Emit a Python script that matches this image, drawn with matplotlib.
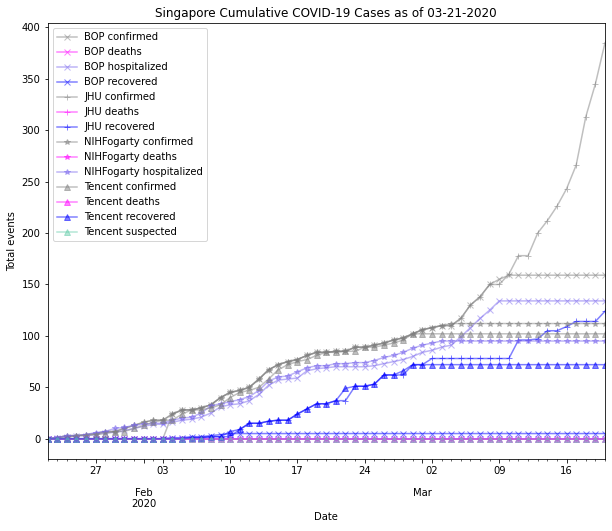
import numpy as np
import matplotlib
matplotlib.use("Agg")
import matplotlib.pyplot as plt
import matplotlib.dates as mdates

dates = np.arange(np.datetime64('2020-01-22'), np.datetime64('2020-03-21'))

bop_confirmed = [0]*13 + [24, 28, 28, 30, 33, 40, 45, 47, 50, 58, 67, 72, 75, 77, 81, 84, 84, 85, 85, 89, 89, 91,
                          93, 96, 98, 102,
                          106, 108, 110, 110, 117, 130, 138, 150, 155] + [159]*11
bop_deaths = [0]*59
bop_hospitalized = [0, 1, 2, 3, 3, 4, 6, 6, 8, 10,
                    12, 14, 14, 16, 18, 19, 21, 25, 31, 33, 34, 37, 43, 52, 57, 58, 59, 66, 68, 69, 70, 70, 70,
                    70, 71, 73, 75, 77, 80,
                    84, 86, 89, 91, 99, 108, 117, 125, 134] + [134]*11
bop_recovered = [0]*13 + [1, 1, 2, 2, 3, 4] + [5]*40

jhu_confirmed = [0, 1, 3, 3, 4, 5, 7, 7, 10, 13,
                 16, 18, 18, 24, 28, 28, 30, 33, 40, 45, 47, 50, 58, 67, 72, 75, 77, 81, 84, 84, 85, 85, 89,
                 89, 91, 93, 96, 98, 102,
                 106, 108, 110, 110, 117, 130, 138, 150, 150, 160, 178, 178, 200, 212, 226, 243, 266, 313,
                 345, 385]
jhu_deaths = [0]*59
jhu_recovered = [0]*10 + [0, 0, 0, 0, 0, 1, 1, 2, 2, 2, 9, 15, 15, 17, 18, 18, 24, 29, 34, 34, 37, 37, 51, 51,
                          53, 62, 62, 62, 72] + \
                [72, 78, 78, 78, 78, 78, 78, 78, 78, 78, 96, 96, 97, 105, 105, 109, 114, 114, 114, 124]

nih_confirmed = [0, 1, 3, 3, 4, 5, 7, 7, 10, 13,
                 16, 18, 18, 24, 28, 28, 30, 33, 40, 45, 47, 50, 58, 67, 72, 75, 77, 81, 84, 84, 85, 85, 89,
                 89, 91, 93, 96, 98, 102,
                 106, 108, 110] + [112]*17
nih_deaths = [0]*59
nih_hospitalized = [0, 1, 3, 3, 4, 6, 7, 10, 11, 13,
                    14, 15, 15, 18, 20, 21, 25, 32, 34, 36, 38, 41, 47, 56, 60, 61, 65, 69, 71, 71, 73, 73, 74,
                    74, 76, 79, 81, 84, 88,
                    91, 93] + [95]*18

tencent_confirmed = [0, 0, 1, 3, 3, 4, 5, 7, 7, 10,
                     13, 16, 18, 18, 24, 28, 28, 30, 33, 40, 45, 47, 50, 58, 67, 72, 75, 77, 81, 84, 84, 85,
                     85, 89, 89, 91, 93, 96] + [102]*21
tencent_deaths = [0]*59
tencent_recovered = [0]*15 + [1, 1, 2, 2, 7, 9, 15, 15, 17, 18, 18, 24, 29, 34, 34, 37, 49, 51, 51, 53, 62, 62,
                              66] + [72]*21
tencent_suspected = [0]*59

series = [
    ("BOP confirmed", bop_confirmed, "gray", "x"),
    ("BOP deaths", bop_deaths, "magenta", "x"),
    ("BOP hospitalized", bop_hospitalized, "mediumslateblue", "x"),
    ("BOP recovered", bop_recovered, "blue", "x"),
    ("JHU confirmed", jhu_confirmed, "gray", "+"),
    ("JHU deaths", jhu_deaths, "magenta", "+"),
    ("JHU recovered", jhu_recovered, "blue", "+"),
    ("NIHFogarty confirmed", nih_confirmed, "gray", "*"),
    ("NIHFogarty deaths", nih_deaths, "magenta", "*"),
    ("NIHFogarty hospitalized", nih_hospitalized, "mediumslateblue", "*"),
    ("Tencent confirmed", tencent_confirmed, "gray", "^"),
    ("Tencent deaths", tencent_deaths, "magenta", "^"),
    ("Tencent recovered", tencent_recovered, "blue", "^"),
    ("Tencent suspected", tencent_suspected, "mediumaquamarine", "^"),
]

fig = plt.figure(figsize=(612/72, 531/72), dpi=72)
ax = fig.add_axes([47.5/612, (531-458.5)/531, (605-47.5)/612, (458.5-23)/531])

for label, vals, color, marker in series:
    ax.plot(dates, vals, color=color, marker=marker, alpha=0.5, label=label, linewidth=1.5, markersize=6)

ax.set_xlim(dates[0], dates[-1])

# ticks: daily minor, weekly (Mondays) + month starts major
all_days = [d.astype(object) for d in dates]
minor = [mdates.date2num(d) for d in all_days]
major_pos = []
major_lab = []
month_marks = []
for py in all_days:
    if py.day == 1:
        major_pos.append(mdates.date2num(py))
        major_lab.append("")
        month_marks.append((mdates.date2num(py),
                            py.strftime("%b") + ("\n%d" % py.year if py.month == 2 else "")))
    elif py.weekday() == 0:
        major_pos.append(mdates.date2num(py))
        major_lab.append(py.strftime("%d"))
ax.set_xticks(major_pos)
ax.set_xticklabels(major_lab)
ax.set_xticks(minor, minor=True)
ax.tick_params(axis='x', which='minor', length=2)
for xpos, txt in month_marks:
    ax.annotate(txt, xy=(xpos, 0), xycoords=ax.get_xaxis_transform(),
                xytext=(0, -29), textcoords='offset points', ha='center', va='top',
                fontsize=10, linespacing=1.2)

ax.set_title("Singapore Cumulative COVID-19 Cases as of 03-21-2020", fontsize=12)
ax.set_ylabel("Total events")
ax.set_xlabel("Date", labelpad=37)
ax.legend(loc="upper left")

fig.savefig("out.png", dpi=72)
